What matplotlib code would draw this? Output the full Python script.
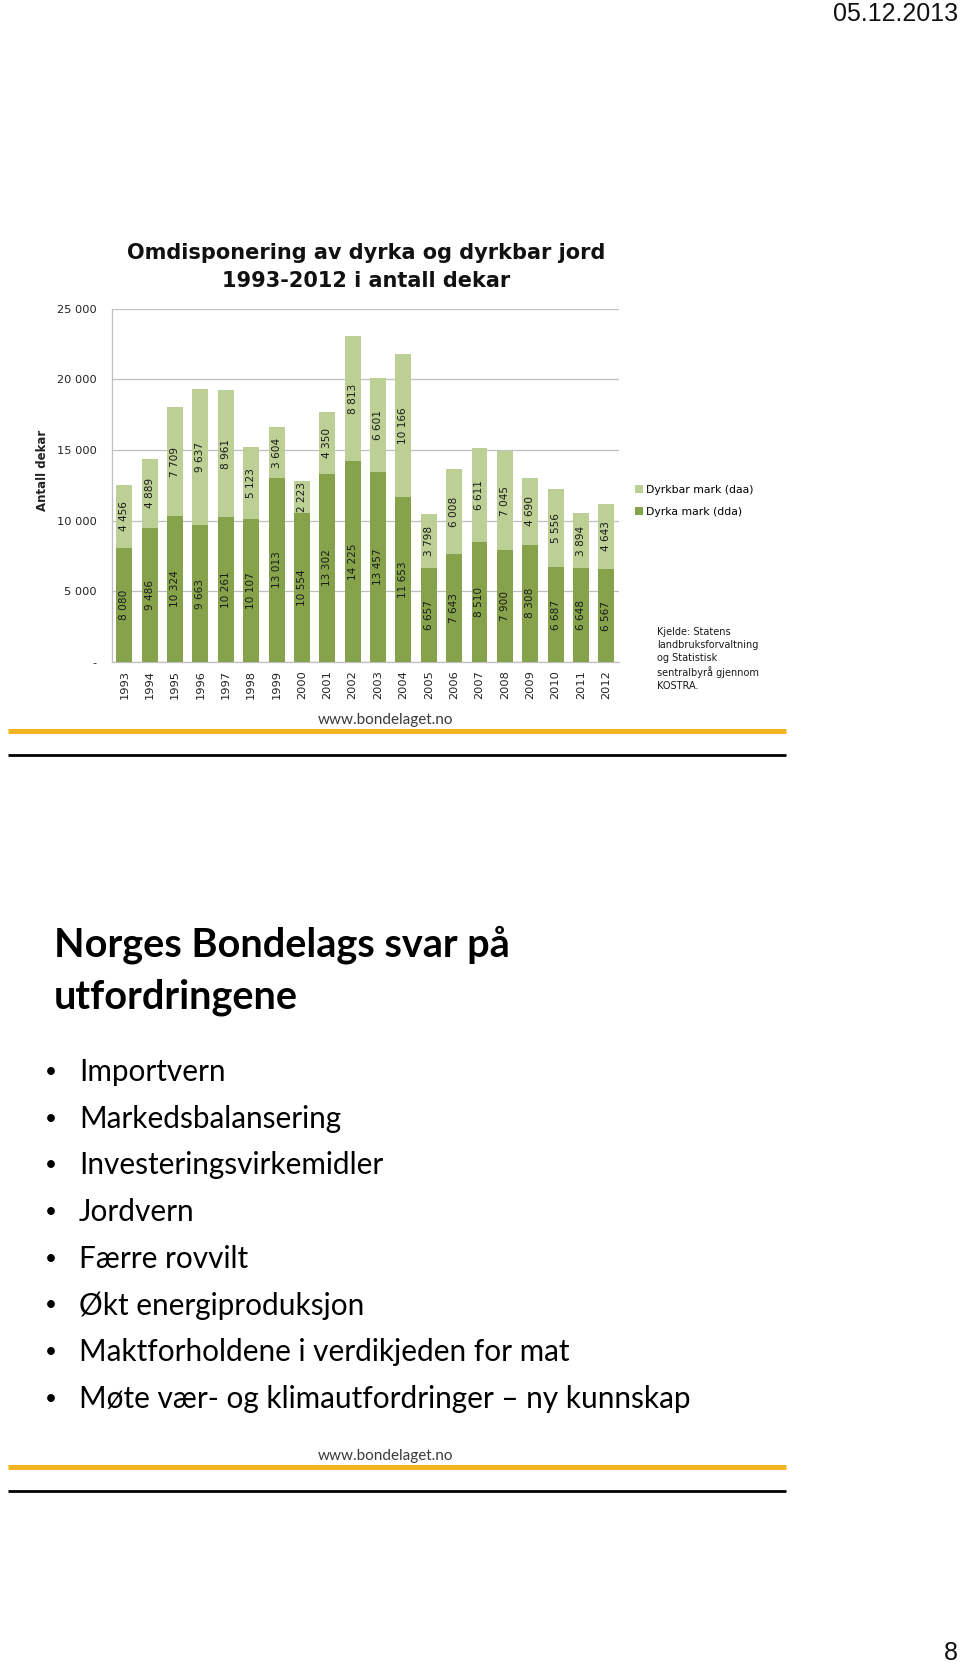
import matplotlib
matplotlib.use('Agg')
import matplotlib.pyplot as plt
from matplotlib.lines import Line2D

years = [str(y) for y in range(1993, 2013)]
dyrka = [8080, 9486, 10324, 9663, 10261, 10107, 13013, 10554, 13302, 14225,
         13457, 11653, 6657, 7643, 8510, 7900, 8308, 6687, 6648, 6567]
dyrkbar = [4456, 4889, 7709, 9637, 8961, 5123, 3604, 2223, 4350, 8813,
           6601, 10166, 3798, 6008, 6611, 7045, 4690, 5556, 3894, 4643]
yticks = [0, 5000, 10000, 15000, 20000, 25000]
ytick_labels = ['-', '5 000', '10 000', '15 000', '20 000', '25 000']
series_names = ['Dyrka mark (dda)', 'Dyrkbar mark (daa)']
title = 'Omdisponering av dyrka og dyrkbar jord\n1993-2012 i antall dekar'
source = 'Kjelde: Statens\nlandbruksforvaltning\nog Statistisk\nsentralbyrå gjennom\nKOSTRA.'
heading = 'Norges Bondelags svar på\nutfordringene'
bullets = ['Importvern', 'Markedsbalansering', 'Investeringsvirkemidler', 'Jordvern',
           'Færre rovvilt', 'Økt energiproduksjon', 'Maktforholdene i verdikjeden for mat',
           'Møte vær- og klimautfordringer – ny kunnskap']

DARK = '#86A34B'
LIGHT = '#BCCF94'
GRID = '#BFBFBF'

W, H = 960, 1666
fig = plt.figure(figsize=(W / 100, H / 100), dpi=100)
fig.patch.set_facecolor('white')

def fx(px):
    return px / W

def fy(py):
    return 1 - py / H

# ---- chart ----
ax = fig.add_axes([fx(111.7), fy(662), (619 - 111.7) / W, (662 - 308.6) / H])
x = list(range(len(years)))
b1 = ax.bar(x, dyrka, width=0.63, color=DARK, zorder=3, label=series_names[0])
b2 = ax.bar(x, dyrkbar, width=0.63, bottom=dyrka, color=LIGHT, zorder=3, label=series_names[1])

fmt = lambda v: f'{v:,}'.replace(',', ' ')
for bars, vals in ((b1, dyrka), (b2, dyrkbar)):
    ax.bar_label(bars, labels=[fmt(v) for v in vals], label_type='center',
                 rotation=90, fontsize=7.6, color='#1a1a1a', family='DejaVu Sans')

ax.set_xlim(-0.5, len(years) - 0.5)
ax.set_ylim(0, 25000)
ax.set_yticks(yticks)
ax.set_yticklabels(ytick_labels, fontsize=8.2, color='#222222')
ax.set_xticks(x)
ax.set_xticklabels(years, rotation=90, fontsize=8.2, color='#222222')
ax.tick_params(axis='x', length=0, pad=6)
ax.tick_params(axis='y', length=0, pad=11)
ax.yaxis.grid(True, color=GRID, linewidth=0.9, zorder=0)
ax.set_axisbelow(True)
for s in ('top', 'right'):
    ax.spines[s].set_visible(False)
for s in ('left', 'bottom'):
    ax.spines[s].set_color(GRID)
    ax.spines[s].set_linewidth(0.9)

fig.text(fx(42), fy(470), 'Antall dekar', rotation=90, fontsize=8.5, fontweight='bold',
         ha='center', va='center', color='#222222')
fig.text(fx(366), fy(267), title, fontsize=15, fontweight='bold', ha='center', va='center',
         linespacing=1.55, color='#111111')

handles = [b2, b1]
fig.legend(handles=handles, labels=[series_names[1], series_names[0]],
           loc='upper left', bbox_to_anchor=(fx(635), fy(485)), frameon=False,
           fontsize=7.8, handlelength=0.7, handleheight=0.7, handletextpad=0.35,
           labelspacing=1.1, borderaxespad=0, borderpad=0)

fig.text(fx(657), fy(627), source, fontsize=7, ha='left', va='top',
         linespacing=1.35, color='#1a1a1a')

# ---- slide decorations ----
fig.text(fx(958), fy(2), '05.12.2013', fontsize=18, family='Liberation Sans',
         ha='right', va='top', color='#111111')
fig.text(fx(958), fy(1653), '8', fontsize=18, family='Liberation Sans',
         ha='right', va='center', color='#111111')

for www_y, yel_y, blk_y in ((720, 731, 755), (1456, 1467, 1491)):
    fig.text(fx(386), fy(www_y), 'www.bondelaget.no', fontsize=11, family='Lato',
             ha='center', va='center', color='#3a3a3a')
    fig.add_artist(Line2D([fx(8), fx(786)], [fy(yel_y), fy(yel_y)], color='#F4B421',
                          linewidth=3.6, solid_capstyle='butt'))
    fig.add_artist(Line2D([fx(8), fx(786)], [fy(blk_y), fy(blk_y)], color='#000000',
                          linewidth=2, solid_capstyle='butt'))

fig.text(fx(54), fy(971), heading, fontsize=28.5, fontweight='bold', family='Lato',
         ha='left', va='center', linespacing=1.48, color='#000000')

by0, bstep = 1072, 46.7
for i, b in enumerate(bullets):
    yy = fy(by0 + i * bstep)
    fig.text(fx(51), yy, '•', fontsize=15, family='Lato', ha='center', va='center')
    fig.text(fx(79), yy, b, fontsize=21.4, family='Lato', ha='left', va='center',
             color='#000000')

fig.savefig('out.png', dpi=100, facecolor='white')
